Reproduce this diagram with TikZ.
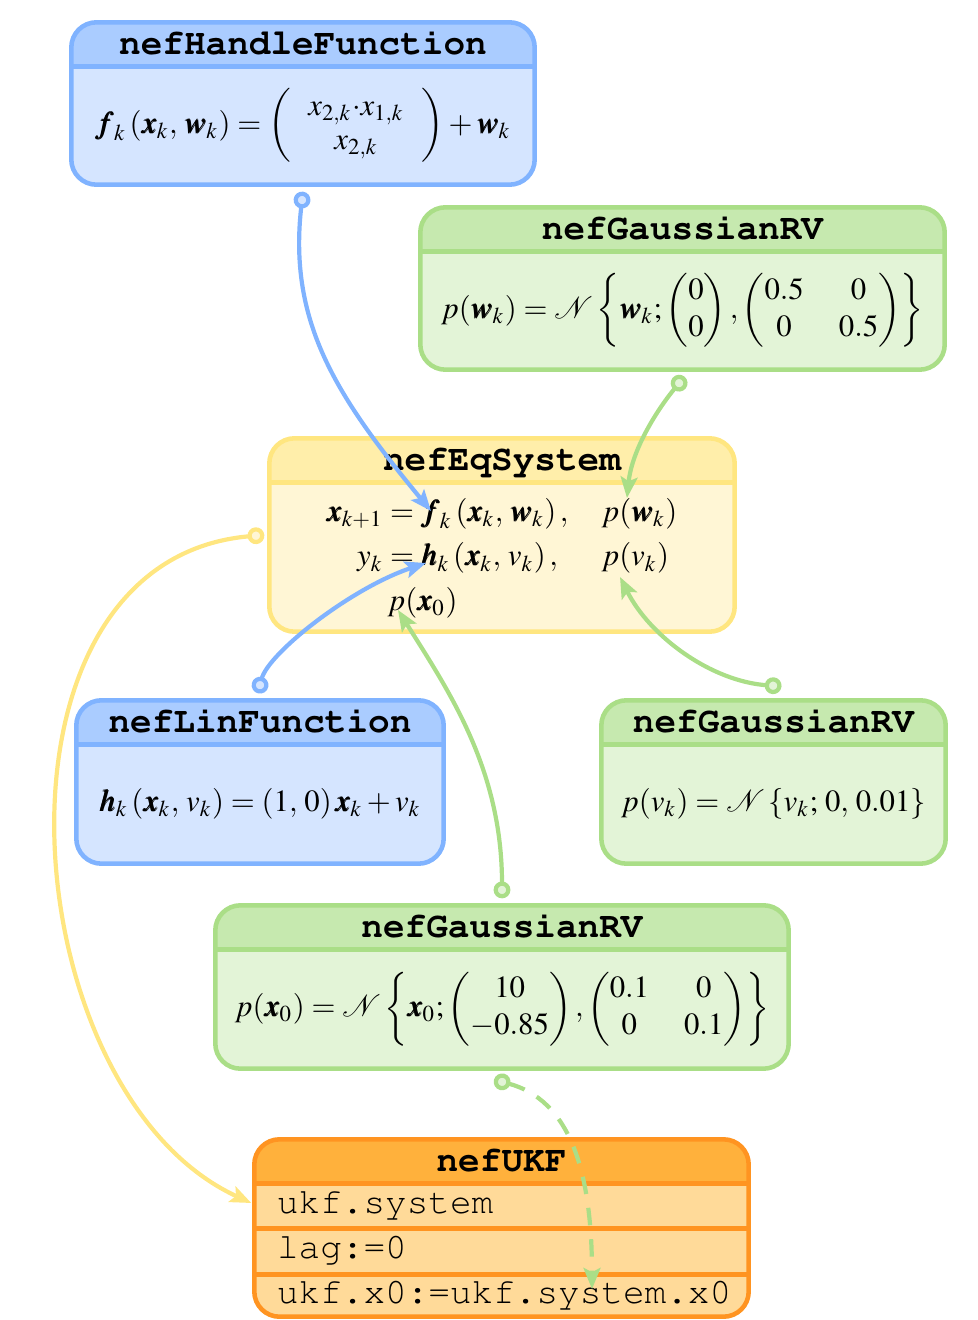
\documentclass[tikz,border=0pt]{standalone}
\usepackage[T1]{fontenc}
\usepackage{mathptmx}
\usepackage{courier}
\usepackage{amsmath}
\usepackage{bm}
\usetikzlibrary{arrows.meta,calc,fit}

\definecolor{blueLine}{HTML}{80B3FF}
\definecolor{blueHead}{HTML}{AACCFF}
\definecolor{blueBody}{HTML}{D5E5FF}
\definecolor{greenLine}{HTML}{AADE87}
\definecolor{greenHead}{HTML}{C6E9AF}
\definecolor{greenBody}{HTML}{E3F4D7}
\definecolor{yellowLine}{HTML}{FFE680}
\definecolor{yellowHead}{HTML}{FFEEAA}
\definecolor{yellowBody}{HTML}{FFF6D5}
\definecolor{orangeLine}{HTML}{FF9421}
\definecolor{orangeHead}{HTML}{FFB13C}
\definecolor{orangeBody}{HTML}{FFDA99}

\def\boxradius{7.2pt}
\def\headh{44}

\tikzset{
  frame/.style={line width=1.3pt},
  classtitle/.style={font=\fontsize{10.3}{12}\selectfont\ttfamily\bfseries,
    inner sep=0pt, text height=7.5pt, text depth=1.8pt},
  classbody/.style={font=\fontsize{8.8}{10.6}\selectfont, inner sep=0pt},
  ukfrow/.style={font=\fontsize{10.3}{12}\selectfont\ttfamily, inner sep=0pt, anchor=base west},
  link/.style={line width=1.2pt, draw=#1Line,
    {Circle[length=4.8pt, fill=#1Body]}-{Stealth[length=6pt, width=4.8pt, inset=1.2pt]}},
}

% a class box: name, colour family, two corners, title, body
\newcommand\classbox[6]{%
  \node[fit={#3 #4}, inner sep=0pt] (#1) {};
  \fill[#2Body, rounded corners=\boxradius] (#1.north west) rectangle (#1.south east);
  \begin{scope}
    \clip[rounded corners=\boxradius] (#1.north west) rectangle (#1.south east);
    \fill[#2Head] (#1.north west) rectangle ($(#1.north east)+(0,\headh)$);
  \end{scope}
  \draw[#2Line, frame] ($(#1.north west)+(0,\headh)$) -- ($(#1.north east)+(0,\headh)$);
  \draw[#2Line, frame, rounded corners=\boxradius] (#1.north west) rectangle (#1.south east);
  \node[classtitle] (#1-title) at ($(#1.north)+(0,\headh/2)$) {#5};
  \node[classbody] (#1-body) at ($(#1.south)!0.5!(#1.north)+(0,\headh/2)$) {#6};
}

\begin{document}
\begin{tikzpicture}[x=0.2857pt, y=-0.2857pt]
\useasboundingbox (0,0) rectangle (977,1320);

\classbox{hf}{blue}{(72,23)}{(534,184)}{nefHandleFunction}
  {$\displaystyle \bm{f}_k\left(\bm{x}_k,\,\bm{w}_k\right)=
    {\renewcommand\arraystretch{0.92}\left(\begin{array}{c} x_{2,k}{\cdot}x_{1,k}\\ x_{2,k}\end{array}\right)}
    +\bm{w}_k$}

\classbox{gw}{green}{(421,208)}{(944,369)}{nefGaussianRV}
  {$\displaystyle p(\bm{w}_k)=\mathcal{N}\left\{\bm{w}_k;
    \begin{pmatrix}0\\0\end{pmatrix},
    \begin{pmatrix}0.5&0\\0&0.5\end{pmatrix}\right\}$}

\classbox{eq}{yellow}{(270,439)}{(734,631)}{nefEqSystem}
  {${\renewcommand\arraystretch{1.21}%
    \begin{array}{r@{}l@{\hspace{9.5pt}}l}
      \bm{x}_{k+1} & {}=\bm{f}_k\left(\bm{x}_k,\,\bm{w}_k\right), & p(\bm{w}_k)\\
      y_k & {}=\bm{h}_k\left(\bm{x}_k,\,v_k\right), & p(v_k)\\
      \multicolumn{3}{l}{\hspace{17.4pt}p(\bm{x}_0)}
    \end{array}}$}

\classbox{lin}{blue}{(77,701)}{(443,863)}{nefLinFunction}
  {$\displaystyle \bm{h}_k\left(\bm{x}_k,\,v_k\right)=\left(1,\,0\right)\bm{x}_k+v_k$}

\classbox{gv}{green}{(602,701)}{(945,863)}{nefGaussianRV}
  {$\displaystyle p(v_k)=\mathcal{N}\left\{v_k;\,0,\,0.01\right\}$}

\classbox{gx}{green}{(216,906)}{(788,1068)}{nefGaussianRV}
  {$\displaystyle p(\bm{x}_0)=\mathcal{N}\left\{\bm{x}_0;
    \begin{pmatrix}10\\-0.85\end{pmatrix},
    \begin{pmatrix}0.1&0\\0&0.1\end{pmatrix}\right\}$}

\classbox{ukf}{orange}{(255,1140)}{(748,1316)}{nefUKF}{}
% property rows of the filter object
\draw[orangeLine, frame] ($(ukf.north west)+(0,89)$) -- ($(ukf.north east)+(0,89)$);
\draw[orangeLine, frame] ($(ukf.north west)+(0,135)$) -- ($(ukf.north east)+(0,135)$);
\node[ukfrow] (ukf-r1) at ($(ukf.north west)+(22,74)$) {ukf.system};
\node[ukfrow] (ukf-r2) at ($(ukf.north west)+(22,119)$) {lag:=0};
\node[ukfrow] (ukf-r3) at ($(ukf.north west)+(22,164)$) {ukf.x0:=ukf.system.x0};

% connector end points
\coordinate (hfOut) at ($(hf.south)+(0,7)$);
\coordinate (gwOut) at ($(gw.south)+(2,7)$);
\coordinate (eqOut) at ($(eq.west)+(-5,0)$);
\coordinate (linOut) at ($(lin.north)+(-2,-7)$);
\coordinate (gvOut) at ($(gv.north)+(8,-14)$);
\coordinate (gxTop) at ($(gx.north)+(0,-7)$);
\coordinate (gxBot) at ($(gx.south)+(-8,11)$);
\coordinate (fkIn) at ($(eq.center)+(-71,-24)$);
\coordinate (pwIn) at ($(eq.center)+(125,-37)$);
\coordinate (hkIn) at ($(eq.center)+(-76,28)$);
\coordinate (pvIn) at ($(eq.center)+(118,42)$);
\coordinate (pxIn) at ($(eq.center)+(-104,75)$);
\coordinate (sysIn) at ($(ukf.west)+(-3,-25)$);
\coordinate (x0In) at ($(ukf.center)+(90.5,61)$);

% connectors
\draw[link=blue] (hfOut) .. controls +(-15,130) and +(-95,-115) .. (fkIn);
\draw[link=green] (gwOut) .. controls +(-25,30) and +(5,-50) .. (pwIn);
\draw[link=yellow] (eqOut) .. controls +(-293,25) and +(-240,-110) .. (sysIn);
\draw[link=blue] (linOut) .. controls +(10,-40) and +(-75,25) .. (hkIn);
\draw[link=green] (gvOut) .. controls +(-70,-5) and +(30,60) .. (pvIn);
\draw[link=green] (gxTop) .. controls +(0,-130) and +(50,80) .. (pxIn);
\draw[link=green, dash pattern=on 5pt off 4pt] (gxBot) .. controls +(75,20) and +(0,-120) .. (x0In);
\end{tikzpicture}
\end{document}
